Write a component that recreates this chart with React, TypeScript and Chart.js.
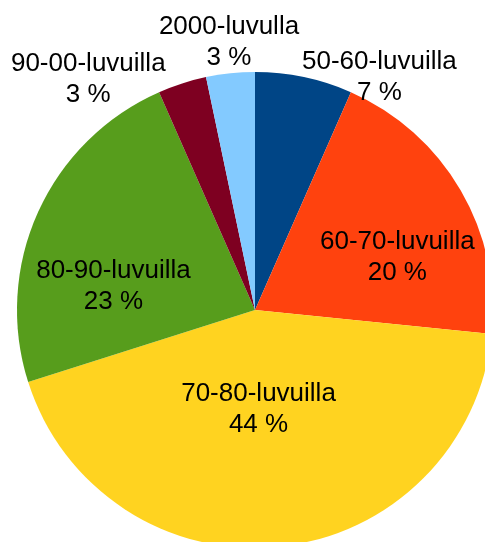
import React, { useEffect, useRef } from "react";
import { Chart, registerables } from "chart.js";

Chart.register(...registerables);

// ---- Data ----
const categories: string[] = [
  "50-60-luvuilla",
  "60-70-luvuilla",
  "70-80-luvuilla",
  "80-90-luvuilla",
  "90-00-luvuilla",
  "2000-luvulla",
];
const shares: number[] = [6.6, 20.0, 43.5, 23.3, 3.3, 3.3];
const sliceColors: string[] = ["#004586", "#ff420e", "#ffd320", "#579d1c", "#7e0021", "#83caff"];

// label placement relative to each slice: radius factor and angular offset (deg)
const labelPlacement = [
  { k: 1.11, da: 16.2 },
  { k: 0.637, da: 10.1 },
  { k: 0.416, da: 3.9 },
  { k: 0.603, da: -14.7 },
  { k: 1.197, da: -18.0 },
  { k: 1.131, da: 0.4 },
];

const FONT = "26px 'Liberation Sans', Arial, sans-serif";
const LINE_H = 31;

const sliceLabelPlugin = {
  id: "sliceLabels",
  afterDatasetsDraw(chart: any) {
    const ctx = chart.ctx as CanvasRenderingContext2D;
    const meta = chart.getDatasetMeta(0);
    const data = chart.data.datasets[0].data as number[];
    const total = data.reduce((a, b) => a + b, 0);
    ctx.save();
    ctx.font = FONT;
    ctx.fillStyle = "#000000";
    ctx.textAlign = "center";
    ctx.textBaseline = "middle";
    meta.data.forEach((arc: any, i: number) => {
      const { x, y, startAngle, endAngle, outerRadius } = arc.getProps(
        ["x", "y", "startAngle", "endAngle", "outerRadius"],
        true
      );
      const p = labelPlacement[i];
      const a = (startAngle + endAngle) / 2 + (p.da * Math.PI) / 180;
      const r = outerRadius * p.k;
      const cx = x + Math.cos(a) * r;
      const cy = y + Math.sin(a) * r;
      const pct = Math.round((data[i] / total) * 100) + " %";
      ctx.fillText(chart.data.labels[i], cx, cy - LINE_H / 2);
      ctx.fillText(pct, cx, cy + LINE_H / 2);
    });
    ctx.restore();
  },
};

export default function App() {
  const canvasRef = useRef<HTMLCanvasElement | null>(null);

  useEffect(() => {
    const canvas = canvasRef.current;
    if (!canvas) return;
    const chart = new Chart(canvas, {
      type: "pie",
      data: {
        labels: categories,
        datasets: [
          {
            data: shares,
            backgroundColor: sliceColors,
            borderWidth: 0,
          },
        ],
      },
      options: {
        animation: false,
        responsive: false,
        devicePixelRatio: 1,
        layout: { padding: { left: 17, top: 72, right: 0, bottom: 0 } },
        plugins: {
          legend: { display: false },
          tooltip: { enabled: false },
        },
      },
      plugins: [sliceLabelPlugin],
    });
    return () => chart.destroy();
  }, []);

  return (
    <div
      style={{
        position: "absolute",
        left: 0,
        top: 0,
        width: 485,
        height: 542,
        overflow: "hidden",
        background: "#ffffff",
      }}
    >
      <canvas
        ref={canvasRef}
        width={493}
        height={548}
        style={{ position: "absolute", left: 0, top: 0, width: 493, height: 548 }}
      />
    </div>
  );
}
